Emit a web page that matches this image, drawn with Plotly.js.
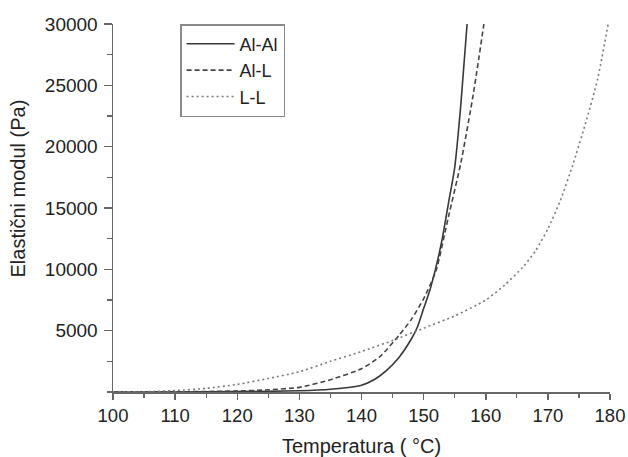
<!DOCTYPE html>
<html>
<head>
<meta charset="utf-8">
<script src="https://cdn.plot.ly/plotly-3.0.1.min.js"></script>
<style>html,body{margin:0;padding:0;background:#fff;}#chart{width:628px;height:457px;}</style>
</head>
<body>
<div id="chart"></div>
<script>
// Temperature (°C) and elastic modulus (Pa)
const tAlAl = [100, 110, 120, 130, 135, 140, 142, 144, 146, 148, 149, 150, 151, 152, 153, 154, 155, 156, 157];
const gAlAl = [0, 5, 30, 100, 220, 550, 1000, 1750, 2800, 4300, 5300, 6800, 8300, 10200, 12500, 15400, 18300, 23500, 30000];

const tAlL = [100, 110, 120, 125, 130, 135, 140, 143, 146, 148, 150, 152, 154, 156, 158, 159.7];
const gAlL = [0, 15, 80, 180, 380, 1000, 1900, 2900, 4600, 5900, 7600, 9900, 14300, 18700, 24300, 30000];

const tLL = [100, 105, 110, 115, 120, 125, 130, 135, 140, 145, 150, 155, 160, 163, 166, 168, 170, 172, 174, 176, 178, 179.7];
const gLL = [0, 20, 120, 300, 620, 1100, 1650, 2500, 3300, 4200, 5200, 6200, 7500, 8700, 10200, 11500, 13300, 15600, 18500, 21800, 25500, 30000];

const seriesNames = ['Al-Al', 'Al-L', 'L-L'];
const xTicks = [100, 110, 120, 130, 140, 150, 160, 170, 180];
const yTicks = [5000, 10000, 15000, 20000, 25000, 30000];

const FONT = 'Liberation Sans, Arial, sans-serif';

const traces = [
  {x: tAlAl, y: gAlAl, name: seriesNames[0], mode: 'lines',
   line: {color: '#383838', width: 1.6, shape: 'spline', smoothing: 0.6}},
  {x: tAlL, y: gAlL, name: seriesNames[1], mode: 'lines',
   line: {color: '#444444', width: 1.6, dash: '5px,3px', shape: 'spline', smoothing: 0.6}},
  {x: tLL, y: gLL, name: seriesNames[2], mode: 'lines',
   line: {color: '#7a7a7a', width: 1.6, dash: '2px,3px', shape: 'spline', smoothing: 0.6}}
];

const layout = {
  width: 628, height: 457,
  margin: {l: 113, r: 18, t: 24, b: 65},
  paper_bgcolor: '#ffffff', plot_bgcolor: '#ffffff',
  font: {family: FONT, size: 18, color: '#222222'},
  showlegend: true,
  legend: {
    x: 0.135, y: 1.0, xanchor: 'left', yanchor: 'top',
    bgcolor: '#ffffff', bordercolor: '#8a8a8a', borderwidth: 1.5,
    font: {family: FONT, size: 18, color: '#222222'},
    itemwidth: 48
  },
  xaxis: {
    range: [100, 180], tickvals: xTicks, ticktext: xTicks.map(String),
    showgrid: false, zeroline: false, showline: true, linecolor: '#666666', linewidth: 1.5,
    ticks: 'outside', ticklen: 6, tickwidth: 1.5, tickcolor: '#666666',
    tickfont: {family: FONT, size: 18.5, color: '#222222'},
    minor: {dtick: 5, ticks: 'outside', ticklen: 4, tickwidth: 1.2, tickcolor: '#666666', showgrid: false},
    title: {text: 'Temperatura ( °C)', font: {family: FONT, size: 20, color: '#222222'}, standoff: 14}
  },
  yaxis: {
    range: [0, 30000], tickvals: yTicks, ticktext: yTicks.map(String),
    showgrid: false, zeroline: false, showline: true, linecolor: '#666666', linewidth: 1.5,
    ticks: 'outside', ticklen: 8, tickwidth: 1.5, tickcolor: '#666666',
    tickfont: {family: FONT, size: 19, color: '#222222'},
    ticklabelstandoff: 2,
    minor: {dtick: 2500, ticks: 'outside', ticklen: 5, tickwidth: 1.2, tickcolor: '#666666', showgrid: false},
    title: {text: '<span style="color:#ffffff">&nbsp;&nbsp;&nbsp;&nbsp;&nbsp;&nbsp;&nbsp;</span>Elastični modul (Pa)', font: {family: FONT, size: 20, color: '#222222'}, standoff: 14}
  }
};

Plotly.newPlot('chart', traces, layout, {displayModeBar: false, staticPlot: true});
</script>
</body>
</html>
